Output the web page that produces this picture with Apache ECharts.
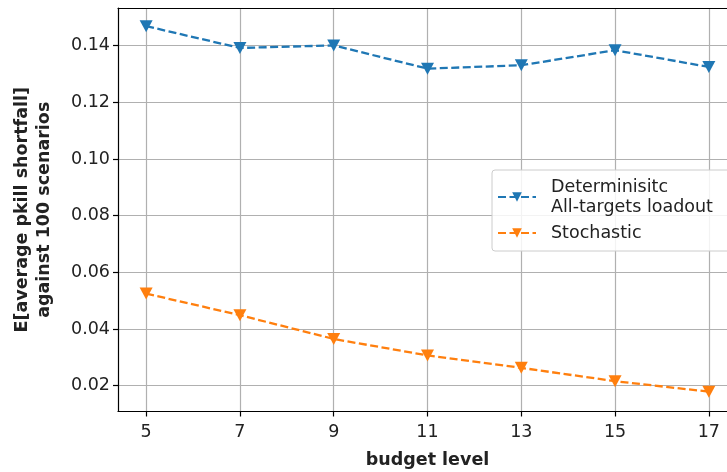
<!DOCTYPE html>
<html>
<head>
<meta charset="utf-8">
<script src="https://cdn.jsdelivr.net/npm/echarts@6/dist/echarts.min.js"></script>
<style>
html,body{margin:0;padding:0;background:#fff;}
#c{width:727px;height:472px;}
</style>
</head>
<body>
<div id="c"></div>
<script>
var budgets = [5, 7, 9, 11, 13, 15, 17];
var deterministic = [0.1469, 0.1392, 0.1401, 0.1319, 0.1331, 0.1384, 0.1325];
var stochastic = [0.0525, 0.0449, 0.0365, 0.0307, 0.0263, 0.0216, 0.0179];
var yTicks = [0.02, 0.04, 0.06, 0.08, 0.10, 0.12, 0.14];
var seriesNames = ['Determinisitc\nAll-targets loadout', 'Stochastic'];

var FONT = 'DejaVu Sans';
var FS = 17.5;
var TXT = '#222';

function pairs(xs, ys) { return xs.map(function (x, i) { return [x, ys[i]]; }); }

var chart = echarts.init(document.getElementById('c'), null, {renderer: 'canvas'});

function mkSeries(name, vals, color) {
  return {
    name: name,
    type: 'line',
    data: pairs(budgets, vals),
    symbol: 'triangle',
    symbolRotate: 180,
    symbolSize: [13, 12],
    showAllSymbol: true,
    itemStyle: {color: color, borderWidth: 0},
    lineStyle: {color: color, width: 2.3, type: [8, 3.5]},
    animation: false,
    z: 3
  };
}

chart.setOption({
  animation: false,
  backgroundColor: '#fff',
  textStyle: {fontFamily: FONT},
  grid: {left: 118, top: 8, width: 619, height: 403.5, containLabel: false, outerBoundsMode: 'none'},
  legend: {
    left: 492, top: 170,
    orient: 'vertical',
    padding: [7, 20, 8, 5],
    itemGap: 6,
    itemWidth: 38, itemHeight: 12,
    backgroundColor: 'rgba(255,255,255,0.85)',
    borderColor: '#cccccc', borderWidth: 1, borderRadius: 3,
    textStyle: {fontFamily: FONT, fontSize: FS, color: TXT, lineHeight: 20, padding: [0, 0, 0, 10]},
    data: seriesNames
  },
  xAxis: [{
    type: 'value',
    min: 4.4, max: 17.6,
    name: 'budget level',
    nameLocation: 'middle',
    nameGap: 40,
    nameTextStyle: {fontFamily: FONT, fontSize: FS, fontWeight: 'bold', color: TXT},
    axisLine: {show: true, onZero: false, lineStyle: {color: '#000', width: 1.2}},
    axisTick: {show: true, length: 5, customValues: budgets, lineStyle: {color: '#000', width: 1.2}},
    axisLabel: {customValues: budgets, margin: 12, fontFamily: FONT, fontSize: FS, color: TXT},
    splitLine: {show: true, lineStyle: {color: '#b0b0b0', width: 1.2}}
  }, {
    type: 'value', position: 'top',
    min: 4.4, max: 17.6,
    axisLine: {show: true, onZero: false, lineStyle: {color: '#000', width: 1.2}},
    axisTick: {show: false}, axisLabel: {show: false}, splitLine: {show: false}
  }],
  yAxis: {
    type: 'value',
    min: 0.0109, max: 0.1533,
    name: 'E[average pkill shortfall]\nagainst 100 scenarios',
    nameLocation: 'middle',
    nameGap: 63,
    nameTextStyle: {fontFamily: FONT, fontSize: FS, fontWeight: 'bold', color: TXT, lineHeight: 22, align: 'center'},
    axisLine: {show: true, onZero: false, lineStyle: {color: '#000', width: 1.2}},
    axisTick: {show: true, length: 5, customValues: yTicks, lineStyle: {color: '#000', width: 1.2}},
    axisLabel: {customValues: yTicks, margin: 8, fontFamily: FONT, fontSize: FS, color: TXT,
      formatter: function (v) { return v.toFixed(2); }},
    splitLine: {show: true, lineStyle: {color: '#b0b0b0', width: 1.2}}
  },
  series: [
    mkSeries(seriesNames[0], deterministic, '#1f77b4'),
    mkSeries(seriesNames[1], stochastic, '#ff7f0e')
  ]
});
</script>
</body>
</html>
